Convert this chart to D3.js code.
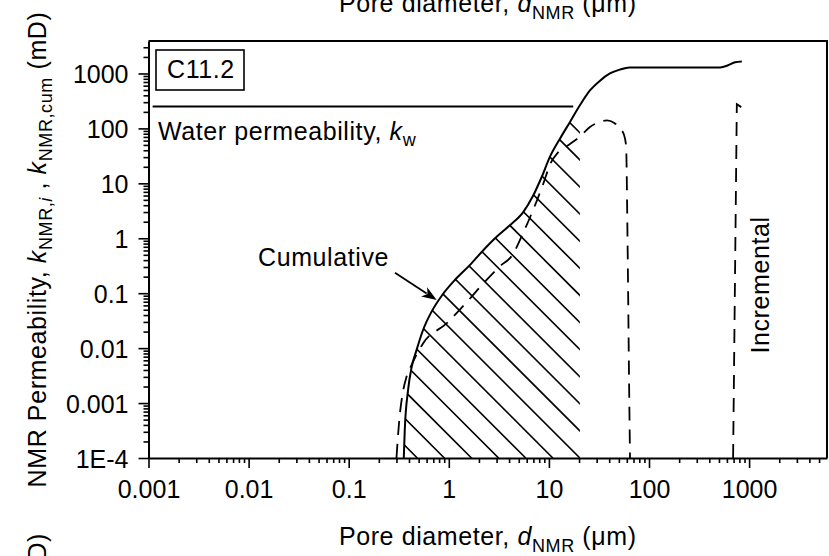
<!DOCTYPE html>
<html>
<head>
<meta charset="utf-8">
<script src="https://cdn.jsdelivr.net/npm/d3@7/dist/d3.min.js"></script>
<style>
  html, body { margin: 0; padding: 0; background: #fff; }
  svg text { font-family: "Liberation Sans", Arial, Helvetica, sans-serif; fill: #000; }
</style>
</head>
<body>
<svg id="chart" width="829" height="556"></svg>
<script>
// ---- data -------------------------------------------------------------
// Cumulative NMR permeability vs pore diameter (µm, mD)
const cumulativeD = [0.355, 0.363, 0.392, 0.424, 0.475, 0.553, 0.671, 0.85, 1.15, 1.62,
  2.2, 2.88, 4.07, 5.54, 6.97, 8.45, 10.2, 12.9, 16.2, 20.4, 25.7, 32.4, 40.7, 51, 64,
  513, 617, 724, 846];
const cumulativeK = [1e-4, 3.2e-4, 1.74e-3, 4.4e-3, 9.1e-3, 0.0214, 0.0457, 0.09, 0.174, 0.324,
  0.60, 0.99, 1.72, 3.0, 6.0, 12.9, 30, 65, 130, 263, 490, 740, 1000, 1175, 1290,
  1290, 1410, 1600, 1660];

// Incremental NMR permeability, main pore population
const incrementalD = [0.30, 0.32, 0.346, 0.378, 0.424, 0.553, 0.95, 1.55, 2.36, 3.24,
  4.3, 5.5, 6.5, 7.6, 8.9, 10.3, 12.4, 16, 20.4, 25.7, 31.6, 38, 45, 51, 56, 59,
  61.2, 63.2, 64.6];
const incrementalK = [1e-4, 4.9e-4, 1.5e-3, 3.0e-3, 4.9e-3, 0.0122, 0.0282, 0.0724, 0.172, 0.309,
  0.49, 1.22, 2.44, 4.9, 10.5, 22.4, 37, 51, 71, 106, 129, 140, 126, 100, 78, 49,
  0.6, 0.0026, 1e-4];

// Incremental NMR permeability, large-pore spike
const spikeD = [692, 754, 846];
const spikeK = [1e-4, 275, 240];

// Water permeability k_w (mD) and the diameter span of its reference line
const waterK = 251;
const waterSpanD = [0.0011, 17.5];

// Upper diameter of the hatched (contributing) region
const hatchEndD = 20.4;

const xTickValues = [0.001, 0.01, 0.1, 1, 10, 100, 1000];
const xTickLabels = ["0.001", "0.01", "0.1", "1", "10", "100", "1000"];
const yTickValues = [1e-4, 1e-3, 0.01, 0.1, 1, 10, 100, 1000];
const yTickLabels = ["1E-4", "0.001", "0.01", "0.1", "1", "10", "100", "1000"];

const sampleName = "C11.2";
const cumulativeArrow = { from: [0.29, 0.235], to: [0.757, 0.075] };

// ---- layout -----------------------------------------------------------
const svg = d3.select("#chart");
const plotL = 148.5, plotR = 827, plotT = 41, plotB = 458;
const FS = 25;
const DASH = "14,9";

const x = d3.scaleLog().domain([0.001, 6000]).range([plotL, plotR]);
const y = d3.scaleLog().domain([1e-4, 3900]).range([plotB, plotT]);

// minor tick values for log axes
function minorTicks(scale) {
  const [a, b] = scale.domain();
  const out = [];
  for (let e = Math.floor(Math.log10(a)); e <= Math.ceil(Math.log10(b)); e++) {
    for (let m = 2; m <= 9; m++) {
      const v = m * Math.pow(10, e);
      if (v > a * 1.0001 && v < b * 0.9999) out.push(v);
    }
  }
  return out;
}

// ---- hatched region under the cumulative curve --------------------------
const cumPts = cumulativeD.map((d, i) => [d, cumulativeK[i]]);
const incPts = incrementalD.map((d, i) => [d, incrementalK[i]]);
const spikePts = spikeD.map((d, i) => [d, spikeK[i]]);

const areaGen = d3.area()
  .x(p => x(p[0])).y0(y(1e-4)).y1(p => y(p[1]))
  .curve(d3.curveMonotoneX);

svg.append("clipPath").attr("id", "hatchClip")
  .append("path")
  .attr("d", areaGen(cumPts.filter(p => p[0] <= hatchEndD)));

const hatchRight = x(hatchEndD);
const hatchStep = 27.1;
const hatchG = svg.append("g").attr("clip-path", "url(#hatchClip)");
for (let k = -12; k <= 16; k++) {
  const xb = hatchRight + k * hatchStep;
  hatchG.append("line")
    .attr("x1", xb - 600).attr("y1", plotB - 600)
    .attr("x2", xb).attr("y2", plotB)
    .attr("stroke", "#000").attr("stroke-width", 1.6);
}

// ---- curves -------------------------------------------------------------
const lineGen = d3.line().x(p => x(p[0])).y(p => y(p[1])).curve(d3.curveMonotoneX);

svg.append("path").attr("d", lineGen(cumPts))
  .attr("fill", "none").attr("stroke", "#000").attr("stroke-width", 2);

svg.append("path").attr("d", lineGen(incPts))
  .attr("fill", "none").attr("stroke", "#000").attr("stroke-width", 1.8)
  .attr("stroke-dasharray", DASH);

svg.append("path").attr("d", d3.line().x(p => x(p[0])).y(p => y(p[1]))(spikePts))
  .attr("fill", "none").attr("stroke", "#000").attr("stroke-width", 1.8)
  .attr("stroke-dasharray", DASH);

// water permeability line
svg.append("line")
  .attr("x1", x(waterSpanD[0])).attr("x2", x(waterSpanD[1]))
  .attr("y1", y(waterK)).attr("y2", y(waterK))
  .attr("stroke", "#000").attr("stroke-width", 2);

// ---- axes ---------------------------------------------------------------
const xAxis = d3.axisBottom(x).tickValues(xTickValues)
  .tickFormat((d, i) => xTickLabels[i]).tickSize(10).tickSizeOuter(0).tickPadding(12);
const gx = svg.append("g").attr("transform", `translate(0,${plotB})`).call(xAxis);
svg.append("g").attr("transform", `translate(0,${plotB})`)
  .call(d3.axisBottom(x).tickValues(minorTicks(x)).tickFormat("").tickSize(5).tickSizeOuter(0))
  .call(g => g.select(".domain").remove());

const yAxis = d3.axisLeft(y).tickValues(yTickValues)
  .tickFormat((d, i) => yTickLabels[i]).tickSize(10).tickSizeOuter(0).tickPadding(10);
const gy = svg.append("g").attr("transform", `translate(${plotL},0)`).call(yAxis);
svg.append("g").attr("transform", `translate(${plotL},0)`)
  .call(d3.axisLeft(y).tickValues(minorTicks(y)).tickFormat("").tickSize(5).tickSizeOuter(0))
  .call(g => g.select(".domain").remove());

svg.selectAll(".tick line").attr("stroke", "#000").attr("stroke-width", 1.6);
svg.selectAll(".domain").attr("stroke", "#000").attr("stroke-width", 2);
svg.selectAll(".tick text").attr("font-size", FS)
  .attr("font-family", '"Liberation Sans", Arial, sans-serif').attr("fill", "#000");
gy.selectAll(".tick text").attr("dy", "0.36em");

// frame top and right
svg.append("path")
  .attr("d", `M${plotL},${plotT}H${plotR}V${plotB}`)
  .attr("fill", "none").attr("stroke", "#000").attr("stroke-width", 2);

// ---- titles -------------------------------------------------------------
function xTitle(yPos) {
  const t = svg.append("text").attr("x", (plotL + plotR) / 2).attr("y", yPos)
    .attr("text-anchor", "middle").attr("font-size", FS).attr("letter-spacing", 0.6);
  t.append("tspan").text("Pore diameter, ");
  t.append("tspan").attr("font-style", "italic").text("d");
  t.append("tspan").attr("font-size", 18).attr("dy", 6.5).text("NMR");
  t.append("tspan").attr("dy", -6.5).text(" (\u03bcm)");
}
xTitle(12);
xTitle(545);

function yTitle(anchor, yPos) {
  const t = svg.append("text")
    .attr("transform", `translate(46,${yPos}) rotate(-90)`)
    .attr("text-anchor", anchor).attr("font-size", FS).attr("letter-spacing", 0.6);
  t.append("tspan").text("NMR Permeability, ");
  t.append("tspan").attr("font-style", "italic").text("k");
  t.append("tspan").attr("font-size", 18).attr("dy", 6).text("NMR,");
  t.append("tspan").attr("font-size", 18).attr("font-style", "italic").text("i");
  t.append("tspan").attr("dy", -6).text(" , ");
  t.append("tspan").attr("font-style", "italic").text("k");
  t.append("tspan").attr("font-size", 18).attr("dy", 6).text("NMR,cum");
  t.append("tspan").attr("dy", -6).text(" (mD)");
}
yTitle("middle", (plotT + plotB) / 2);
yTitle("end", 533);

// ---- annotations --------------------------------------------------------
svg.append("rect").attr("x", 156).attr("y", 50).attr("width", 88).attr("height", 40)
  .attr("fill", "none").attr("stroke", "#000").attr("stroke-width", 1.6);
svg.append("text").attr("x", 167).attr("y", 78).attr("font-size", FS)
  .attr("letter-spacing", 0.6).text(sampleName);

const wt = svg.append("text").attr("x", 158).attr("y", 140).attr("font-size", FS)
  .attr("letter-spacing", 0.6);
wt.append("tspan").text("Water permeability, ");
wt.append("tspan").attr("font-style", "italic").text("k");
wt.append("tspan").attr("font-size", 18).attr("dy", 6).text("w");

svg.append("text").attr("x", 258).attr("y", 266).attr("font-size", FS)
  .attr("letter-spacing", 0.6).text("Cumulative");

// arrow to the cumulative curve
const ax1 = x(cumulativeArrow.from[0]), ay1 = y(cumulativeArrow.from[1]);
const ax2 = x(cumulativeArrow.to[0]), ay2 = y(cumulativeArrow.to[1]);
const ang = Math.atan2(ay2 - ay1, ax2 - ax1);
const headL = 15, headW = 5.5;
const bx = ax2 - headL * Math.cos(ang), by = ay2 - headL * Math.sin(ang);
svg.append("line").attr("x1", ax1).attr("y1", ay1).attr("x2", bx + 3 * Math.cos(ang)).attr("y2", by + 3 * Math.sin(ang))
  .attr("stroke", "#000").attr("stroke-width", 1.8);
svg.append("path")
  .attr("d", `M${ax2},${ay2}L${bx - headW * Math.sin(ang)},${by + headW * Math.cos(ang)}L${bx + 4 * Math.cos(ang)},${by + 4 * Math.sin(ang)}L${bx + headW * Math.sin(ang)},${by - headW * Math.cos(ang)}Z`)
  .attr("fill", "#000");

svg.append("text").attr("transform", "translate(769,285) rotate(-90)")
  .attr("text-anchor", "middle").attr("font-size", FS).attr("letter-spacing", 0.6)
  .text("Incremental");
</script>
</body>
</html>
